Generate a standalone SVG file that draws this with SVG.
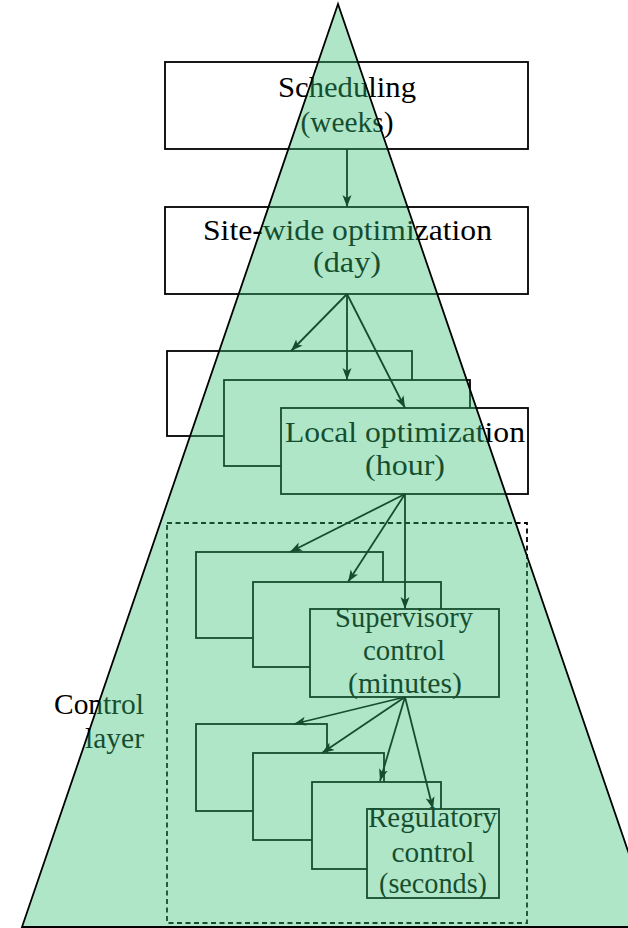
<svg xmlns="http://www.w3.org/2000/svg" width="628" height="928" viewBox="0 0 628 928">
<defs>
<style>
.box{fill:#fff;stroke:#000;stroke-width:1.8}
text{font-family:'Liberation Serif','Tinos','Times New Roman','DejaVu Serif',serif;font-size:29px;fill:#000}
.t{text-anchor:middle}
.tr{text-anchor:end}
.arr{fill:none;stroke:#000;stroke-width:1.8;marker-end:url(#ah)}
</style>
<marker id="ah" markerUnits="userSpaceOnUse" markerWidth="14" markerHeight="10" refX="12" refY="4.5" orient="auto">
<path d="M0,0 L12,4.5 L0,9 L3,4.5 z" fill="#000"/>
</marker>
</defs>
<rect width="628" height="928" fill="#fff"/>
<g id="scheduling">
<rect class="box" x="165" y="62" width="363" height="87"/>
<text class="t" x="347" y="97" textLength="138" lengthAdjust="spacingAndGlyphs">Scheduling</text>
<text class="t" x="347" y="132" textLength="93" lengthAdjust="spacingAndGlyphs">(weeks)</text>
</g>
<g id="sitewide">
<rect class="box" x="165" y="207" width="363" height="87"/>
<text class="t" x="347.5" y="240" textLength="289" lengthAdjust="spacingAndGlyphs">Site-wide optimization</text>
<text class="t" x="347" y="272" textLength="68" lengthAdjust="spacingAndGlyphs">(day)</text>
</g>
<g id="local">
<rect class="box" x="167" y="351" width="245" height="85"/>
<rect class="box" x="224" y="380" width="246" height="86"/>
<rect class="box" x="281" y="408" width="247" height="86"/>
<text class="t" x="405" y="442" textLength="240" lengthAdjust="spacingAndGlyphs">Local optimization</text>
<text class="t" x="405" y="475" textLength="80" lengthAdjust="spacingAndGlyphs">(hour)</text>
</g>
<g id="controllayer">
<rect x="167" y="523" width="360" height="400" fill="none" stroke="#000" stroke-width="1.8" stroke-dasharray="5,3.5"/>
<text class="tr" x="144" y="714" textLength="90" lengthAdjust="spacingAndGlyphs">Control</text>
<text class="tr" x="144" y="748" textLength="59" lengthAdjust="spacingAndGlyphs">layer</text>
</g>
<g id="supervisory">
<rect class="box" x="196" y="552" width="187" height="86"/>
<rect class="box" x="253" y="582" width="188" height="85"/>
<rect class="box" x="310" y="609" width="189" height="88"/>
<text class="t" x="404" y="627" textLength="138" lengthAdjust="spacingAndGlyphs">Supervisory</text>
<text class="t" x="404" y="660" textLength="82" lengthAdjust="spacingAndGlyphs">control</text>
<text class="t" x="405" y="693" textLength="114" lengthAdjust="spacingAndGlyphs">(minutes)</text>
</g>
<g id="regulatory">
<rect class="box" x="196" y="724" width="131" height="87"/>
<rect class="box" x="253" y="753" width="131" height="87"/>
<rect class="box" x="312" y="782" width="129" height="87"/>
<rect class="box" x="367" y="809" width="132" height="89"/>
<text class="t" x="432.5" y="827" textLength="129" lengthAdjust="spacingAndGlyphs">Regulatory</text>
<text class="t" x="433" y="862" textLength="83" lengthAdjust="spacingAndGlyphs">control</text>
<text class="t" x="433" y="893" textLength="108" lengthAdjust="spacingAndGlyphs">(seconds)</text>
</g>
<g id="connectors">
<line class="arr" x1="347" y1="149" x2="347" y2="207"/>
<line class="arr" x1="347" y1="294" x2="291" y2="351"/>
<line class="arr" x1="347" y1="294" x2="347" y2="380"/>
<line class="arr" x1="347" y1="294" x2="405" y2="408"/>
<line class="arr" x1="405" y1="494" x2="290" y2="552"/>
<line class="arr" x1="405" y1="494" x2="348" y2="582"/>
<line class="arr" x1="405" y1="494" x2="405" y2="609"/>
<line class="arr" x1="405" y1="697" x2="294" y2="724"/>
<line class="arr" x1="405" y1="697" x2="322" y2="753"/>
<line class="arr" x1="405" y1="697" x2="380" y2="781"/>
<line class="arr" x1="405" y1="697" x2="433" y2="809"/>
</g>
<g id="pyramid">
<polygon points="338,4 22,927 654,927" fill="#39c075" fill-opacity="0.4" stroke="#000" stroke-width="1.8" stroke-linejoin="miter"/>
</g>
</svg>
